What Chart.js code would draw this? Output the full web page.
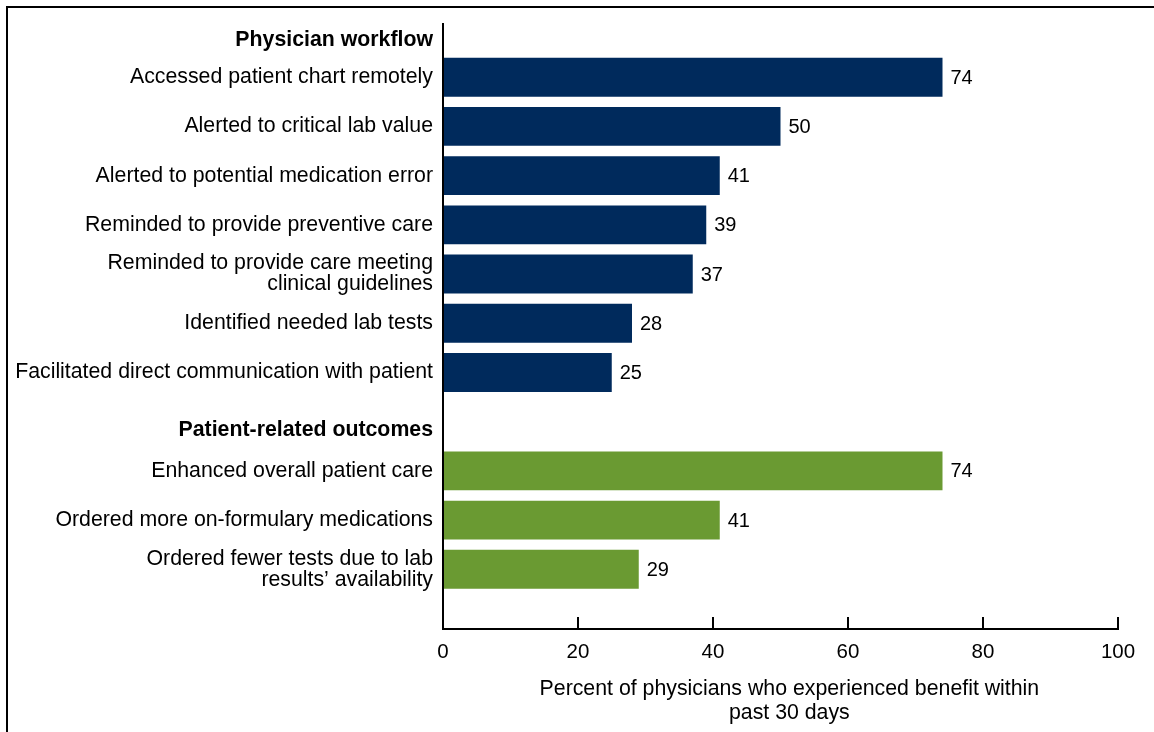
<!DOCTYPE html>
<html>
<head>
<meta charset="utf-8">
<script src="https://cdn.jsdelivr.net/npm/chart.js@4.4.0/dist/chart.umd.min.js"></script>
<style>
  html, body { margin: 0; padding: 0; background: #fff; overflow: hidden; }
  #wrap { position: relative; width: 1154px; height: 732px; }
  #frame {
    position: absolute; left: 6px; top: 6px; width: 1300px; height: 900px;
    border-left: 2px solid #000; border-top: 2px solid #000; pointer-events: none;
  }
</style>
</head>
<body>
<div id="wrap">
  <canvas id="chart"></canvas>
  <div id="frame"></div>
</div>
<script>
// Chart data
const workflowHeader = 'Physician workflow';
const workflowLabels = [
  'Accessed patient chart remotely',
  'Alerted to critical lab value',
  'Alerted to potential medication error',
  'Reminded to provide preventive care',
  ['Reminded to provide care meeting', 'clinical guidelines'],
  'Identified needed lab tests',
  'Facilitated direct communication with patient'
];
const workflowValues = [74, 50, 41, 39, 37, 28, 25];

const outcomeHeader = 'Patient-related outcomes';
const outcomeLabels = [
  'Enhanced overall patient care',
  'Ordered more on-formulary medications',
  ['Ordered fewer tests due to lab', 'results\u2019 availability']
];
const outcomeValues = [74, 41, 29];

const xTicks = [0, 20, 40, 60, 80, 100];
const xTitle = ['Percent of physicians who experienced benefit within', 'past 30 days'];

const navy = '#002a5c';
const green = '#6a9a32';

// Build combined category list (headers get an empty slot with no bar)
const labels = [workflowHeader, ...workflowLabels, outcomeHeader, ...outcomeLabels];
const values = [null, ...workflowValues, null, ...outcomeValues];
const colors = [navy, ...workflowValues.map(() => navy), green, ...outcomeValues.map(() => green)];
const headerIdx = [0, workflowLabels.length + 1];

const FONT = 'Arial, "Liberation Sans", Helvetica, sans-serif';

// Draws the number at the end of each bar
const valueLabels = {
  id: 'valueLabels',
  afterDatasetsDraw(chart) {
    const ctx = chart.ctx;
    const meta = chart.getDatasetMeta(0);
    ctx.save();
    ctx.font = '20px ' + FONT;
    ctx.fillStyle = '#000';
    ctx.textAlign = 'left';
    ctx.textBaseline = 'middle';
    meta.data.forEach((bar, i) => {
      const v = values[i];
      if (v === null) return;
      ctx.fillText(String(v), bar.x + 8, bar.y + 1);
    });
    ctx.restore();
  }
};

// title in the original sits a bit right of the axis centre
const pad = '\u00a0\u00a0\u00a0';

new Chart(document.getElementById('chart'), {
  type: 'bar',
  data: {
    labels,
    datasets: [{
      data: values,
      backgroundColor: colors,
      barPercentage: 0.79,
      categoryPercentage: 1.0
    }]
  },
  options: {
    indexAxis: 'y',
    responsive: true,
    maintainAspectRatio: false,
    animation: false,
    layout: { padding: { top: 24, right: 36, left: 0, bottom: 0 } },
    plugins: {
      legend: { display: false },
      tooltip: { enabled: false }
    },
    scales: {
      y: {
        grid: { display: false, drawTicks: false },
        border: { display: true, color: '#000', width: 2 },
        ticks: {
          autoSkip: false,
          padding: 10,
          color: '#000',
          // header rows are bold and sit a little lower than their slot
          callback: (val, i) => headerIdx.includes(i) ? ['', labels[i]] : labels[i],
          font: (ctx) => {
            if (ctx.index === headerIdx[0]) return { family: FONT, size: 21.3, weight: 'bold', lineHeight: 1.15 };
            if (ctx.index === headerIdx[1]) return { family: FONT, size: 21.3, weight: 'bold', lineHeight: 0.8 };
            return { family: FONT, size: 21.3, lineHeight: 0.98 };
          }
        },
        afterBuildTicks: (s) => {
          // stretch the category range so slots line up with the original spacing
          s._startValue = -0.081;
          s._valueRange = 12.294;
        },
        afterFit: (s) => {
          s.width = 443;
          s.paddingTop = 0;
          s.paddingBottom = 0;
        }
      },
      x: {
        min: 0,
        max: 100,
        afterBuildTicks: (s) => { s.ticks = xTicks.map(v => ({ value: v })); },
        grid: {
          drawOnChartArea: false,
          drawTicks: true,
          tickLength: -12,
          color: '#000',
          lineWidth: 2
        },
        border: { display: true, color: '#000', width: 2 },
        ticks: {
          padding: 23,
          color: '#000',
          font: { family: FONT, size: 20.5 }
        },
        title: {
          display: true,
          text: xTitle.map(t => pad + t),
          color: '#000',
          font: { family: FONT, size: 21.3, lineHeight: 1.12 },
          padding: { top: 0, bottom: 7 }
        },
        afterFit: (s) => {
          s.height = 103;
          s.paddingLeft = 0;
          s.paddingRight = 0;
        }
      }
    }
  },
  plugins: [valueLabels]
});
</script>
</body>
</html>
